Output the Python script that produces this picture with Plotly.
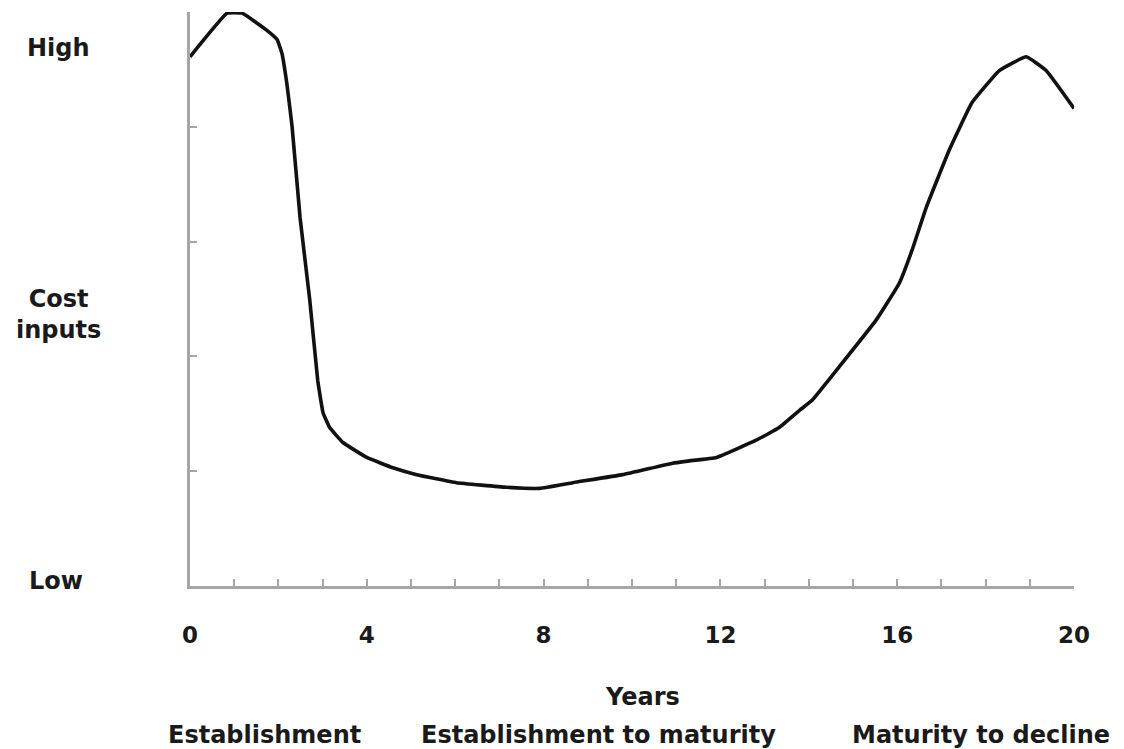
import plotly.graph_objects as go

years = [0.0, 0.84, 1.18, 1.74, 1.97, 2.08, 2.19, 2.31, 2.49, 2.71, 2.89, 3.01, 3.16, 3.46,
         4.00, 4.59, 5.13, 6.03, 7.16, 7.91, 8.66, 9.79, 10.92, 11.30, 11.91, 12.81, 13.33,
         13.79, 14.08, 14.69, 15.53, 16.05, 16.34, 16.66, 17.18, 17.69, 18.31, 18.92, 19.37, 20.0]
cost = [4.61, 4.99, 4.99, 4.84, 4.76, 4.64, 4.38, 4.00, 3.21, 2.49, 1.79, 1.51, 1.38, 1.25,
        1.12, 1.03, 0.97, 0.90, 0.86, 0.85, 0.90, 0.97, 1.07, 1.09, 1.12, 1.27, 1.38,
        1.53, 1.62, 1.91, 2.32, 2.64, 2.93, 3.30, 3.80, 4.21, 4.49, 4.61, 4.49, 4.16]

x_ticks = list(range(0, 21))
x_labels = [str(v) if v % 4 == 0 else "" for v in x_ticks]
y_ticks = [1, 2, 3, 4, 5]

FONT = "DejaVu Sans"
AX = "#a6a6a6"
TXT = "#1a1a1a"
OFF = 8  # page body margin

fig = go.Figure()
fig.add_trace(go.Scatter(x=years, y=cost, mode="lines",
                         line=dict(color="#111111", width=3.6, shape="spline", smoothing=0.3),
                         hoverinfo="skip", showlegend=False))

W, H = 1124 - OFF, 749 - OFF
L, R_ = 190 - OFF, 1074 - OFF
T, B_ = 12 - OFF, 586 - OFF

fig.update_layout(
    width=W, height=H,
    margin=dict(l=L, r=W - R_, t=T, b=H - B_, pad=0),
    paper_bgcolor="white", plot_bgcolor="white",
    font=dict(family=FONT, color=TXT),
    xaxis=dict(range=[0, 20], tickvals=x_ticks, ticktext=x_labels, ticks="inside",
               ticklen=7, tickwidth=2, tickcolor=AX, showline=True, linecolor=AX, linewidth=2.5,
               showgrid=False, zeroline=False, ticklabelstandoff=27,
               tickfont=dict(family=FONT, size=23, color=TXT, weight="bold")),
    yaxis=dict(range=[0, 5], tickvals=y_ticks, ticks="inside", ticklen=7, tickwidth=2,
               tickcolor=AX, showline=True, linecolor=AX, linewidth=2.5, showgrid=False,
               zeroline=False, showticklabels=False),
)

def px2paper(px, py):
    return (px - 190) / 884.0, (586 - py) / 574.0

texts = [
    ("High", 58, 48),
    ("Cost<br>inputs", 58, 314),
    ("Low", 56, 581),
    ("Years", 642, 697),
    ("Establishment", 264, 735),
    ("Establishment to maturity", 598, 735),
    ("Maturity to decline", 981, 735),
]
for t, px, py in texts:
    xp, yp = px2paper(px, py)
    fig.add_annotation(text=t, x=xp, y=yp, xref="paper", yref="paper", showarrow=False,
                       xanchor="center", yanchor="middle",
                       font=dict(family=FONT, size=24, color=TXT, weight="bold"))

fig.write_html("out.html")
